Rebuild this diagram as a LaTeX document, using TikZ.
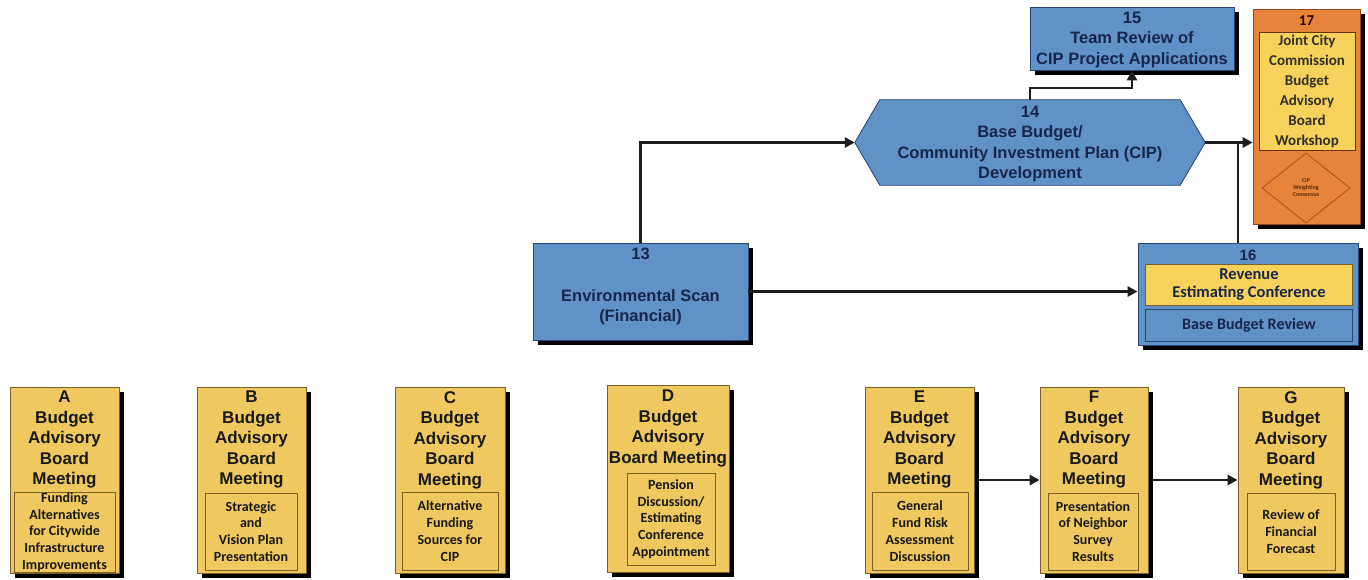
\documentclass[tikz,border=0pt]{standalone}
\usepackage{fontspec}
\setmainfont{Liberation Sans}
\newfontfamily\calfont{Carlito}
\usetikzlibrary{shadows,shapes.geometric,arrows.meta,backgrounds,calc}
\definecolor{bblue}{RGB}{96,146,200}
\definecolor{bedge}{RGB}{40,70,115}
\definecolor{navy}{RGB}{25,38,75}
\definecolor{ybox}{RGB}{240,200,96}
\definecolor{yedge}{RGB}{120,96,40}
\definecolor{yin}{RGB}{246,210,92}
\definecolor{obox}{RGB}{232,132,58}
\definecolor{oedge}{RGB}{150,70,20}
\definecolor{lncol}{RGB}{30,30,30}
\tikzset{
 shad/.style={drop shadow={shadow xshift=5pt,shadow yshift=-5pt,fill=black,opacity=1}},
 bluebox/.style={shad, rectangle, draw=bedge, line width=0.8pt, fill=bblue, inner sep=0pt},
 yellowbox/.style={shad, rectangle, draw=yedge, line width=0.7pt, fill=ybox, inner sep=0pt},
 innerbox/.style={rectangle, draw=yedge, line width=0.9pt, inner sep=0pt},
 hdr/.style={font=\bfseries\fontsize{17}{20.5}\selectfont, align=center, text=black!90, inner sep=0pt},
 small/.style={font=\calfont\bfseries\fontsize{14}{16.8}\selectfont, align=center, text=black!90},
 btxt/.style={font=\bfseries\fontsize{16.5}{20.5}\selectfont, align=center, text=navy, inner sep=0pt},
 ctxt/.style={font=\calfont\bfseries\fontsize{16.5}{18}\selectfont, align=center, text=navy, inner sep=0pt},
 arr/.style={draw=lncol, line width=2.6pt, -{Triangle[length=10pt,width=10pt]}},
 ln/.style={draw=lncol, line width=2.6pt},
}
\begin{document}
\begin{tikzpicture}[x=1pt,y=-1pt]
\useasboundingbox (0,0) rectangle (1368,579);

% ---------- top row ----------
\node[bluebox, minimum width=204pt, minimum height=63pt] (n15) at (1132,38.5) {};
\node[btxt] (n15t) at (1132,40) {15\\Team Review of\\CIP Project Applications};

\node[minimum width=300pt, minimum height=85pt, inner sep=0pt] (n14) at (1030,142.5) {};
\coordinate (n14L) at ($(n14.west)+(-25,0)$);
\coordinate (n14R) at ($(n14.east)+(25,0)$);
\begin{scope}[on background layer]
\fill[black, shift={(5,5)}] (n14L) -- (n14.north west) -- (n14.north east) -- (n14R) -- (n14.south east) -- (n14.south west) -- cycle;
\filldraw[fill=bblue, draw=bedge, line width=0.8pt] (n14L) -- (n14.north west) -- (n14.north east) -- (n14R) -- (n14.south east) -- (n14.south west) -- cycle;
\end{scope}
\node[btxt] (n14t) at (1030,144) {14\\Base Budget/\\Community Investment Plan (CIP)\\Development};

\node[bluebox, minimum width=215pt, minimum height=97pt] (n13) at (640.5,291.5) {};
\node[btxt] (n13t) at (640.5,286.5) {13\\[21pt]Environmental Scan\\(Financial)};

\node[bluebox, minimum width=220pt, minimum height=102pt] (n16) at (1248,294) {};
\node[btxt, font=\bfseries\fontsize{15}{18}\selectfont] (n16t) at (1248,255) {16};
\node[rectangle, draw=yedge, line width=0.6pt, fill=yin, minimum width=207pt, minimum height=41pt, ctxt] (n16a) at (1249,285) {Revenue\\Estimating Conference};
\node[rectangle, draw=bedge, line width=0.6pt, fill=bblue, minimum width=207pt, minimum height=32pt, ctxt, font=\calfont\bfseries\fontsize{16}{18}\selectfont] (n16b) at (1249,325) {Base Budget Review};

\node[shad, rectangle, draw=oedge, line width=0.6pt, fill=obox, minimum width=107pt, minimum height=215pt, inner sep=0pt] (n17) at (1306.5,116.5) {};
\node[font=\calfont\bfseries\fontsize{15}{18}\selectfont, text=black!85!red, inner sep=0pt] (n17t) at (1306.5,21) {17};
\node[rectangle, draw=oedge!70!black, line width=0.6pt, fill=yin, minimum width=96pt, minimum height=118pt, inner sep=0pt, font=\calfont\bfseries\fontsize{15}{20}\selectfont, align=center, text=black!85!olive] (n17a) at (1307,91) {Joint City\\Commission\\Budget\\Advisory\\Board\\Workshop};
\node[diamond, draw=oedge, line width=0.6pt, minimum width=88pt, minimum height=70pt, inner sep=0pt, font=\calfont\bfseries\fontsize{6}{7}\selectfont, align=center, text=oedge!60!black] (n17b) at (1306,188) {CIP\\Weighting\\Consensus};

% ---------- connectors top ----------
\draw[arr] (n13.north) |- (n14L);
\draw[arr] (n14.north) -- ++(0,-12) -| (n15.south);
\draw[arr] (n14R) -- (n14R -| n17.west);
\coordinate (j) at (1238,142.5);
\draw[ln] (n16.north -| j) -- (j);
\draw[arr] (n13.east) -- (n13.east -| n16.west);

% ---------- bottom row ----------
\node[yellowbox, minimum width=109pt, minimum height=186pt] (A) at (64.5,480) {};
\node[hdr, anchor=north] (Ah) at (64.5,391) {A\\Budget\\Advisory\\Board\\Meeting};
\node[innerbox, small, minimum width=101pt, minimum height=80pt] (Ai) at (64.5,532) {Funding\\Alternatives\\for Citywide\\Infrastructure\\Improvements};

\node[yellowbox, minimum width=109pt, minimum height=186pt] (B) at (251.5,480) {};
\node[hdr, anchor=north] (Bh) at (251.5,391) {B\\Budget\\Advisory\\Board\\Meeting};
\node[innerbox, small, minimum width=92pt, minimum height=77pt] (Bi) at (251,531.5) {Strategic\\and\\Vision Plan\\Presentation};

\node[yellowbox, minimum width=110pt, minimum height=186pt] (C) at (450,480) {};
\node[hdr, anchor=north] (Ch) at (450,391) {C\\Budget\\Advisory\\Board\\Meeting};
\node[innerbox, small, minimum width=96pt, minimum height=78pt] (Ci) at (450,531) {Alternative\\Funding\\Sources for\\CIP};

\node[yellowbox, minimum width=122pt, minimum height=187pt] (D) at (668,478.5) {};
\node[hdr, anchor=north] (Dh) at (668,390) {D\\Budget\\Advisory\\Board Meeting};
\node[innerbox, small, minimum width=88pt, minimum height=92pt] (Di) at (671,519) {Pension\\Discussion/\\Estimating\\Conference\\Appointment};

\node[yellowbox, minimum width=109pt, minimum height=186pt] (E) at (919.5,480) {};
\node[hdr, anchor=north] (Eh) at (919.5,391) {E\\Budget\\Advisory\\Board\\Meeting};
\node[innerbox, small, minimum width=96pt, minimum height=78pt] (Ei) at (920,531) {General\\Fund Risk\\Assessment\\Discussion};

\node[yellowbox, minimum width=108pt, minimum height=186pt] (F) at (1094,480) {};
\node[hdr, anchor=north] (Fh) at (1094,391) {F\\Budget\\Advisory\\Board\\Meeting};
\node[innerbox, small, minimum width=90pt, minimum height=77pt] (Fi) at (1093,531.5) {Presentation\\of Neighbor\\Survey\\Results};

\node[yellowbox, minimum width=106pt, minimum height=186pt] (G) at (1291,480) {};
\node[hdr, anchor=north] (Gh) at (1291,391) {G\\Budget\\Advisory\\Board\\Meeting};
\node[innerbox, small, minimum width=88pt, minimum height=77pt] (Gi) at (1291,531.5) {Review of\\Financial\\Forecast};

\draw[arr] ([xshift=5pt]E.east) -- (F.west);
\draw[arr] ([xshift=5pt]F.east) -- (G.west);
\end{tikzpicture}
\end{document}
